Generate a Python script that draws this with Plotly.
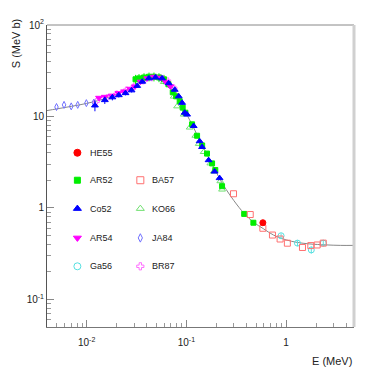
import math
import plotly.graph_objects as go

# ---------------- data ----------------
CURVE_E = [0.004, 0.005, 0.007, 0.01, 0.015, 0.02, 0.025, 0.03, 0.035, 0.04, 0.045, 0.05,
           0.055, 0.06, 0.065, 0.07, 0.078, 0.087, 0.1, 0.114, 0.128, 0.144, 0.161, 0.181,
           0.2, 0.22, 0.25, 0.3, 0.38, 0.47, 0.59, 0.75, 1.0, 1.3, 1.7, 2.5, 3.5, 4.8]
CURVE_S = [11.6, 12.1, 12.9, 13.9, 15.6, 17.5, 19.4, 21.3, 23.2, 25.0, 26.2, 26.7,
           26.6, 25.6, 23.9, 21.8, 18.7, 15.2, 10.7, 8.2, 6.3, 4.85, 3.85, 3.0,
           2.45, 2.0, 1.6, 1.2, 0.87, 0.70, 0.595, 0.505, 0.448, 0.42, 0.405, 0.395, 0.39, 0.39]

HE55_E = [0.585]
HE55_S = [0.69]

AR52_E = [0.0309, 0.0335, 0.0376, 0.0422, 0.0473, 0.0531, 0.0596, 0.0661, 0.073, 0.0789,
          0.0857, 0.0918, 0.0977, 0.114, 0.128, 0.144, 0.161, 0.181, 0.195, 0.228, 0.380, 0.470]
AR52_S = [25.5, 26.1, 26.7, 27.2, 27.2, 26.7, 25.5, 22.5, 18.4, 16.6,
          14.7, 12.5, 11.0, 8.21, 6.16, 4.82, 3.93, 3.07, 2.60, 1.73, 0.861, 0.69]
AR52_ERR = [3.0, 3.0, 3.0, 3.0, 3.0, 3.0, 3.0, 2.0, 1.0, 0.8,
            0.6, 0.5, 0.4, 0.3, 0.2, 0.15, 0.1, 0.1, 0.08, 0.06, 0.05, 0.04]

CO52_E = [0.0121, 0.0152, 0.0181, 0.0210, 0.0245, 0.0282, 0.0321, 0.0361, 0.0420, 0.049,
          0.0571, 0.0665, 0.0764, 0.0838, 0.0906, 0.0962, 0.1016, 0.1183, 0.1358, 0.1436,
          0.1671, 0.1919, 0.2153]
CO52_S = [13.2, 15.1, 16.2, 17.1, 18.0, 19.3, 21.6, 24.0, 26.1, 26.7,
          26.1, 23.1, 19.6, 16.6, 14.1, 11.0, 10.5, 7.87, 5.37, 4.64,
          3.33, 2.50, 2.12]
CO52_ERR = [1.8, 1.4, 1.2, 1.0, 1.0, 1.0, 1.0, 1.0, 1.0, 1.0,
            1.0, 0.8, 0.6, 0.5, 0.4, 0.3, 0.3, 0.2, 0.15, 0.12,
            0.1, 0.08, 0.06]

AR54_E = [0.0133, 0.0152, 0.0178, 0.0208, 0.0237, 0.0272, 0.0305, 0.0347, 0.0405, 0.0473,
          0.055, 0.0617, 0.0692]
AR54_S = [16.0, 16.4, 16.9, 18.0, 18.8, 20.1, 21.3, 24.0, 26.1, 27.2,
          26.5, 24.0, 21.3]

GA56_E = [0.891, 1.30, 1.79, 2.36]
GA56_S = [0.497, 0.413, 0.348, 0.413]
GA56_ERR = [0.03, 0.03, 0.03, 0.03]

BA57_E = [0.297, 0.437, 0.585, 0.73, 0.871, 1.03, 1.46, 1.77, 2.05, 2.36]
BA57_S = [1.43, 0.848, 0.60, 0.506, 0.458, 0.412, 0.37, 0.388, 0.394, 0.413]

KO66_E = [0.0593, 0.0746, 0.0807, 0.0940, 0.108, 0.123, 0.133, 0.149, 0.174, 0.188, 0.219, 0.228]
KO66_S = [23.8, 16.5, 12.9, 10.5, 7.57, 6.16, 5.02, 4.09, 3.07, 2.50, 1.96, 1.59]

JA84_E = [0.00498, 0.00593, 0.0070, 0.00813, 0.00993, 0.0118]
JA84_S = [12.7, 13.4, 12.9, 13.4, 14.0, 14.2]

BR87_E = [0.0125, 0.016, 0.02, 0.025, 0.03, 0.037, 0.045, 0.055, 0.065, 0.075]
BR87_S = [14.6, 16.0, 17.6, 19.5, 21.5, 24.5, 26.5, 26.5, 24.5, 20.5]

Y_TICKS = [0.1, 1, 10, 100]
Y_TICKTEXT = ["10<sup>-1</sup>", "1", "10", "10<sup>2</sup>"]
X_TICKS = [0.01, 0.1, 1]
X_TICKTEXT = ["10<sup>-2</sup>", "10<sup>-1</sup>", "1"]
Y_MINOR = [m * 10 ** p for p in (-2, -1, 0, 1) for m in range(2, 10) if 0.05 <= m * 10 ** p <= 100]
X_MINOR = [m * 10 ** p for p in (-3, -2, -1, 0) for m in range(2, 10) if 0.004 <= m * 10 ** p <= 4.8]

FONT = "Liberation Sans, Arial, sans-serif"

# series styles: name, E, S, err, symbol, color, size, legend column, legend row
SERIES = [
    ("HE55", HE55_E, HE55_S, None, "circle", "#ff0000", 6, 0, 0),
    ("AR52", AR52_E, AR52_S, AR52_ERR, "square", "#00ee00", 5, 0, 1),
    ("Co52", CO52_E, CO52_S, CO52_ERR, "triangle-up", "#0000ff", 6, 0, 2),
    ("AR54", AR54_E, AR54_S, None, "triangle-down", "#ff00ff", 6, 0, 3),
    ("Ga56", GA56_E, GA56_S, GA56_ERR, "circle-open", "#55e0e0", 6, 0, 4),
    ("BA57", BA57_E, BA57_S, None, "square-open", "#ff7070", 6, 1, 1),
    ("KO66", KO66_E, KO66_S, None, "triangle-up-open", "#70e070", 6, 1, 2),
    ("JA84", JA84_E, JA84_S, None, "diamond-tall-open", "#7070ff", 5, 1, 3),
    ("BR87", BR87_E, BR87_S, None, "cross-open", "#ff70ff", 5, 1, 4),
]
LEG_COL_X = [0.099, 0.304]
LEG_TEXT_DX = 0.033
LEG_ROW_Y = [0.577, 0.486, 0.392, 0.295, 0.201]

fig = go.Figure()

fig.add_trace(go.Scatter(x=CURVE_E, y=CURVE_S, mode="lines", line=dict(color="#888888", width=1),
                         line_shape="spline", showlegend=False, hoverinfo="skip"))

draw_order = ["BR87", "JA84", "KO66", "AR52", "AR54", "Co52", "Ga56", "BA57", "HE55"]
by_name = {s[0]: s for s in SERIES}
for nm in draw_order:
    name, ex, sy, err, sym, col, size, _, _ = by_name[nm]
    tr = dict(x=ex, y=sy, mode="markers", name=name, showlegend=False,
              marker=dict(symbol=sym, color=col, size=size, line=dict(color=col, width=1)))
    if err is not None:
        tr["error_y"] = dict(type="data", array=err, visible=True, color=col, thickness=1, width=0)
    fig.add_trace(go.Scatter(**tr))

# legend keys on an overlay axis
for name, ex, sy, err, sym, col, size, c, r in SERIES:
    fig.add_trace(go.Scatter(x=[LEG_COL_X[c]], y=[LEG_ROW_Y[r]], xaxis="x2", yaxis="y2",
                             mode="markers", showlegend=False, hoverinfo="skip",
                             marker=dict(symbol=sym, color=col, size=size + 1, line=dict(color=col, width=1))))
    fig.add_annotation(x=LEG_COL_X[c] + LEG_TEXT_DX, y=LEG_ROW_Y[r], xref="paper", yref="paper",
                       text=name, showarrow=False, xanchor="left", yanchor="middle",
                       font=dict(family=FONT, size=9, color="#222222"))

fig.add_annotation(x=-0.1, y=1.03, xref="paper", yref="paper", text="S (MeV b)", textangle=-90,
                   showarrow=False, xanchor="center", yanchor="top",
                   font=dict(family=FONT, size=11, color="#222222"))
fig.add_annotation(x=1.0, y=-0.085, xref="paper", yref="paper", text="E (MeV)",
                   showarrow=False, xanchor="right", yanchor="top",
                   font=dict(family=FONT, size=11, color="#222222"))

# frame top / right
fig.add_shape(type="line", xref="paper", yref="paper", x0=0, x1=1, y0=1, y1=1,
              line=dict(color="#888888", width=1))
fig.add_shape(type="line", xref="paper", yref="paper", x0=1, x1=1, y0=0, y1=1,
              line=dict(color="#d0d0d0", width=3))

# the page adds an 8px body margin, so the figure is 8px smaller and margins compensate
fig.update_layout(
    width=372, height=362,
    margin=dict(l=39, r=26, t=10, b=43),
    paper_bgcolor="white", plot_bgcolor="white",
    font=dict(family=FONT, size=10, color="#222222"),
    xaxis=dict(type="log", range=[math.log10(0.004), math.log10(4.8)],
               showgrid=False, zeroline=False, showline=True, linecolor="#777777", linewidth=1,
               tickmode="array", tickvals=X_TICKS, ticktext=X_TICKTEXT,
               ticks="inside", ticklen=7, tickcolor="#888888", tickwidth=1,
               ticklabelstandoff=6,
               tickfont=dict(family=FONT, size=10, color="#222222"),
               minor=dict(tickmode="array", tickvals=X_MINOR, ticks="inside", ticklen=4,
                          tickcolor="#999999", showgrid=False)),
    yaxis=dict(type="log", range=[math.log10(0.05), 2],
               showgrid=False, zeroline=False, showline=True, linecolor="#555555", linewidth=1,
               tickmode="array", tickvals=Y_TICKS, ticktext=Y_TICKTEXT,
               ticks="inside", ticklen=7, tickcolor="#888888", tickwidth=1,
               tickfont=dict(family=FONT, size=10, color="#222222"),
               minor=dict(tickmode="array", tickvals=Y_MINOR, ticks="inside", ticklen=4,
                          tickcolor="#999999", showgrid=False)),
    xaxis2=dict(overlaying="x", range=[0, 1], visible=False, fixedrange=True),
    yaxis2=dict(overlaying="y", range=[0, 1], visible=False, fixedrange=True),
    showlegend=False,
)

fig.write_html("out.html")
